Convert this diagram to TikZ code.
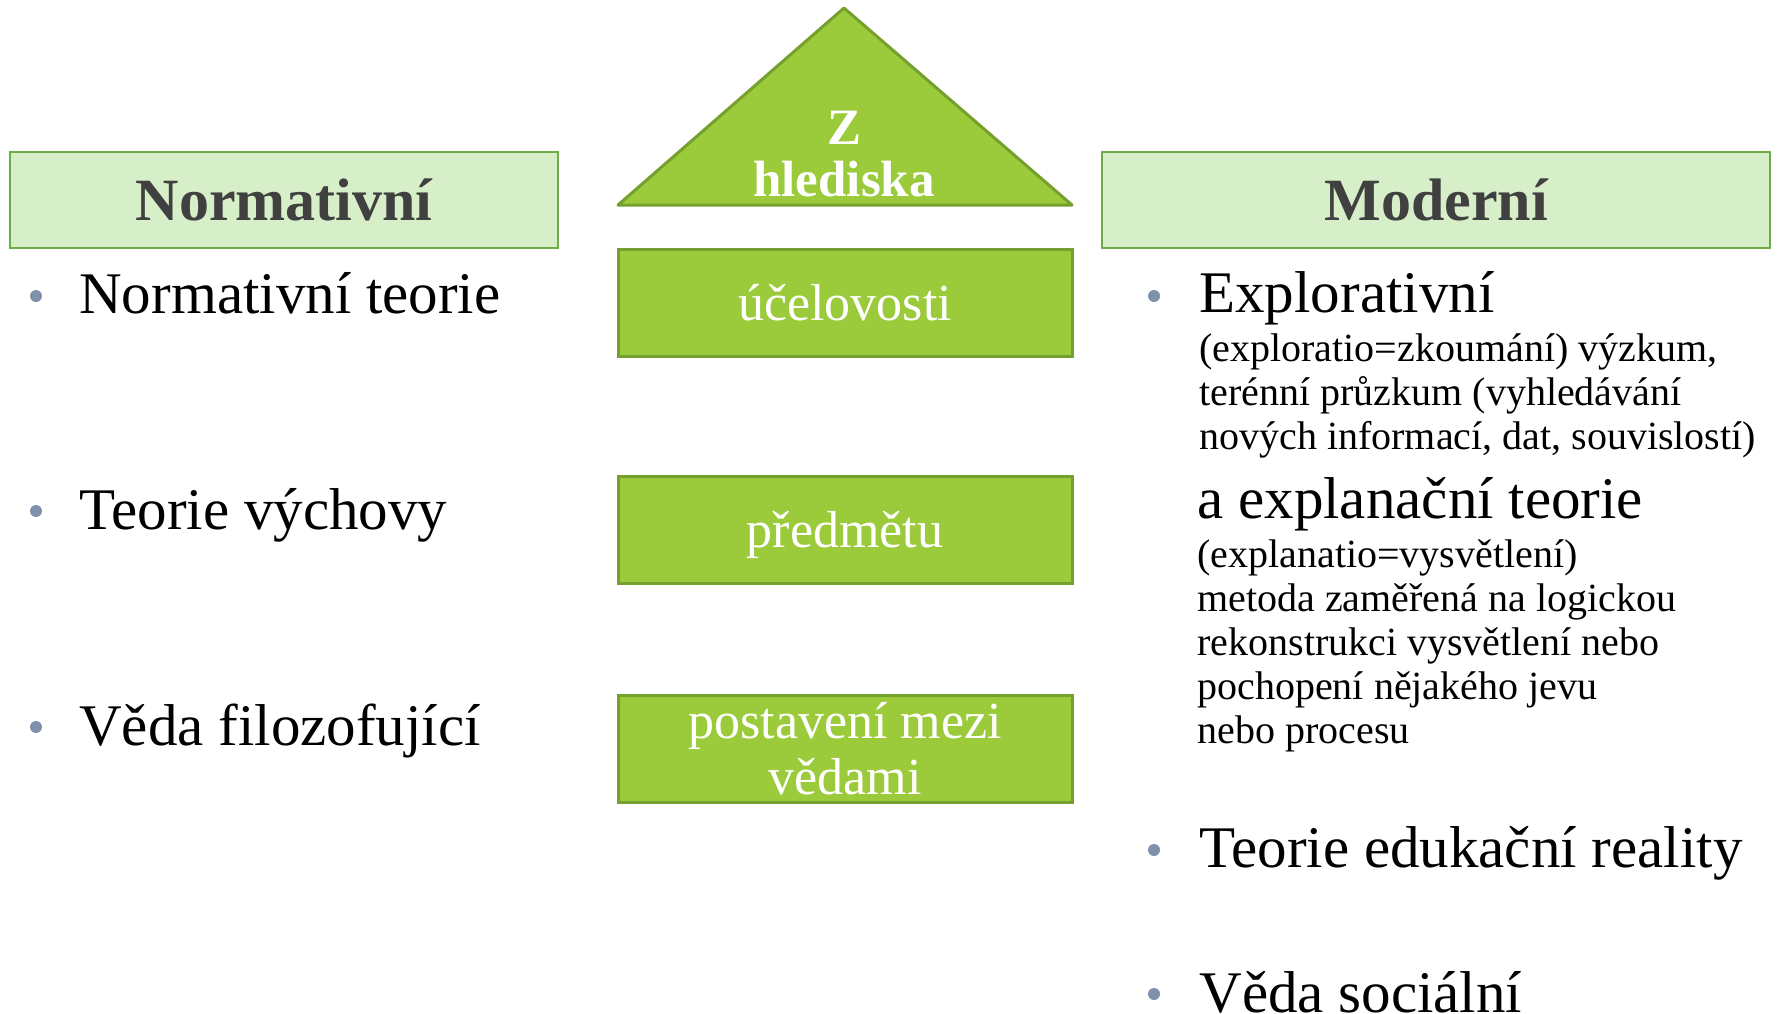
\documentclass[tikz,border=0pt]{standalone}
\usepackage{fontspec}
\setmainfont{Liberation Serif}
\usetikzlibrary{calc}

\definecolor{headfill}{HTML}{D7EFC8}
\definecolor{headline}{HTML}{6EAD45}
\definecolor{boxfill}{HTML}{9BCB3B}
\definecolor{boxline}{HTML}{76A02E}
\definecolor{dotcol}{HTML}{8091AB}
\definecolor{headtext}{HTML}{404040}

\begin{document}
\begin{tikzpicture}[x=0.5pt,y=-0.5pt,
  headbox/.style={draw=headline,fill=headfill,line width=1.2pt,minimum height=48pt,inner sep=0pt,
    text=headtext,font=\fontsize{30}{36}\selectfont\bfseries},
  midbox/.style={draw=boxline,fill=boxfill,line width=1.5pt,minimum width=227pt,minimum height=53.5pt,
    inner sep=0pt,text=white,font=\fontsize{26}{28}\selectfont},
  bigitem/.style={anchor=base west,inner sep=0pt,font=\fontsize{29.5}{35}\selectfont},
  smallitem/.style={anchor=base west,inner sep=0pt,align=left,font=\fontsize{20}{22}\selectfont},
  dot/.style={circle,fill=dotcol,inner sep=0pt,minimum size=6pt}]

\useasboundingbox (0,0) rectangle (1777,1013);

% headings
\node[headbox,minimum width=274pt] (norm) at (284,200) {Normativní};
\node[headbox,minimum width=334pt] (mod) at (1436,200) {Moderní};

% roof
\draw[boxline,fill=boxfill,line width=1.5pt,line join=round] (618,205) -- (844,8) -- (1072,205) -- cycle;
\node[text=white,align=center,inner sep=0pt,font=\fontsize{25.5}{26}\selectfont\bfseries] (roof) at (844,154) {Z\\hlediska};

\node[midbox,text height=18pt,text depth=0pt] (ucel) at (845,302.5) {účelovosti};
\node[midbox,text height=18pt,text depth=0pt] (pred) at (845,529.5) {předmětu};
\node[midbox,align=center,font=\fontsize{26}{28}\selectfont] (post) at (845,749) {postavení mezi\\vědami};

% left column
\node[dot] (l1) at (36,296) {};
\node[bigitem] (normt) at (79,313) {Normativní teorie};
\node[dot] (l2) at (36,511) {};
\node[bigitem] (vych) at (79,529) {Teorie výchovy};
\node[dot] (l3) at (36,727) {};
\node[bigitem] (filo) at (79,745) {Věda filozofující};

% right column (base = last line)
\node[dot] (r1) at (1154,296) {};
\node[bigitem] (expl) at (1199,312) {Explorativní};
\node[smallitem] (expltxt) at (1199,449) {(exploratio=zkoumání) výzkum,\\terénní průzkum (vyhledávání\\nových informací, dat, souvislostí)};
\node[bigitem] (expn) at (1197,518) {a explanační teorie};
\node[smallitem] (expntxt) at (1197,743) {(explanatio=vysvětlení)\\metoda zaměřená na logickou\\rekonstrukci vysvětlení nebo\\pochopení nějakého jevu\\nebo procesu};
\node[dot] (r2) at (1154,850) {};
\node[bigitem] (eduk) at (1199,867) {Teorie edukační reality};
\node[dot] (r3) at (1154,994) {};
\node[bigitem] (soc) at (1199,1012) {Věda sociální};

\end{tikzpicture}
\end{document}
